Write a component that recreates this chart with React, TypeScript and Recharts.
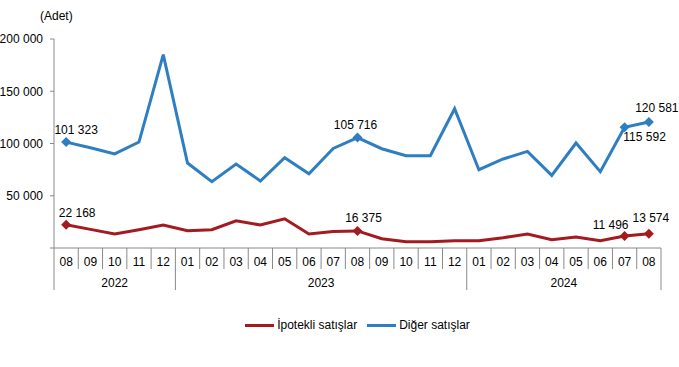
import { LineChart, Line, XAxis, YAxis } from "recharts";

const months = [
  "08", "09", "10", "11", "12",
  "01", "02", "03", "04", "05", "06", "07", "08", "09", "10", "11", "12",
  "01", "02", "03", "04", "05", "06", "07", "08",
];
const years = [
  "2022", "2022", "2022", "2022", "2022",
  "2023", "2023", "2023", "2023", "2023", "2023", "2023", "2023", "2023", "2023", "2023", "2023",
  "2024", "2024", "2024", "2024", "2024", "2024", "2024", "2024",
];
const ipotekli = [
  22168, 17800, 13400, 17500, 22000,
  16600, 17500, 26100, 22000, 28000, 13400, 15900, 16375, 8900, 6000, 6000, 7000,
  7000, 9900, 13400, 7900, 10500, 7000, 11496, 13574,
];
const diger = [
  101323, 96000, 90000, 101400, 185000,
  81300, 63400, 80400, 64100, 86400, 71100, 95300, 105716, 95000, 88300, 88300, 133300,
  74900, 85200, 92400, 69500, 100500, 73000, 115592, 120581,
];
const yTicks = [0, 50000, 100000, 150000, 200000];

// which points carry a marker + value label, and where the label sits
const ipotekliLabels: Record<number, { dx: number; dy: number }> = {
  0: { dx: 11, dy: -8 },
  12: { dx: 6, dy: -9 },
  23: { dx: -14, dy: -7 },
  24: { dx: 2, dy: -12 },
};
const digerLabels: Record<number, { dx: number; dy: number }> = {
  0: { dx: 10, dy: -8 },
  12: { dx: -2, dy: -9 },
  23: { dx: 20, dy: 14 },
  24: { dx: 8, dy: -10 },
};

const data = months.map((m, i) => ({
  key: `${years[i]}-${m}`,
  month: m,
  year: years[i],
  ipotekli: ipotekli[i],
  diger: diger[i],
}));

const RED = "#A31A1F";
const BLUE = "#2E7EC1";
const GRID = "#898989";
const FONT = "'Liberation Sans', Arial, sans-serif";

const PLOT_W = 607;
const BAND = PLOT_W / months.length;

const fmt = (v: number) => String(v).replace(/\B(?=(\d{3})+(?!\d))/g, " ");

function MonthTick(props: any) {
  const { x, y, payload } = props;
  const i = payload.index;
  const left = x - BAND / 2;
  const yearStart = i === 0 || years[i] !== years[i - 1];
  const isLast = i === months.length - 1;
  let yearLabel = null;
  if (yearStart) {
    const count = years.filter((yy) => yy === years[i]).length;
    yearLabel = (
      <text x={left + (count * BAND) / 2} y={y + 39} textAnchor="middle" fontSize={12} fill="#000" fontFamily={FONT}>
        {years[i]}
      </text>
    );
  }
  return (
    <g>
      <line x1={left} x2={left} y1={y} y2={yearStart ? y + 42 : y + 21} stroke={GRID} />
      {isLast && <line x1={x + BAND / 2} x2={x + BAND / 2} y1={y} y2={y + 42} stroke={GRID} />}
      <text x={x} y={y + 18} textAnchor="middle" fontSize={12} fill="#000" fontFamily={FONT}>
        {months[i]}
      </text>
      {yearLabel}
    </g>
  );
}

function makeDot(labels: Record<number, { dx: number; dy: number }>, color: string) {
  return (props: any) => {
    const { cx, cy, index } = props;
    if (!labels[index]) return <g key={`d${index}`} />;
    const r = 5;
    return (
      <polygon
        key={`d${index}`}
        points={`${cx},${cy - r} ${cx + r},${cy} ${cx},${cy + r} ${cx - r},${cy}`}
        fill={color}
      />
    );
  };
}

function makeLabel(labels: Record<number, { dx: number; dy: number }>, values: number[]) {
  return (props: any) => {
    const { x, y, index } = props;
    const l = labels[index];
    if (!l) return null;
    return (
      <text
        key={`l${index}`}
        x={x + l.dx}
        y={y + l.dy}
        textAnchor="middle"
        fontSize={12}
        fill="#000"
        fontFamily={FONT}
      >
        {fmt(values[index])}
      </text>
    );
  };
}

function ChartLegend() {
  const item = (color: string, text: string) => (
    <div style={{ display: "flex", alignItems: "center", margin: "0 5px" }}>
      <div style={{ width: 29, height: 3, background: color, marginRight: 3 }} />
      <span>{text}</span>
    </div>
  );
  return (
    <div
      style={{
        position: "absolute",
        top: 318,
        left: 54,
        width: PLOT_W,
        display: "flex",
        justifyContent: "center",
        fontFamily: FONT,
        fontSize: 12,
        color: "#000",
      }}
    >
      {item(RED, "İpotekli satışlar")}
      {item(BLUE, "Diğer satışlar")}
    </div>
  );
}

export default function App() {
  return (
    <div style={{ position: "absolute", left: 0, top: 0, width: 679, height: 367, background: "#fff" }}>
      <div
        style={{
          position: "absolute",
          left: 40,
          top: 9,
          fontFamily: FONT,
          fontSize: 12,
          color: "#000",
        }}
      >
        (Adet)
      </div>
      <LineChart width={679} height={367} data={data} margin={{ top: 39, right: 18, bottom: 69, left: 0 }}>
        <XAxis
          dataKey="key"
          interval={0}
          padding={{ left: BAND / 2, right: BAND / 2 }}
          axisLine={{ stroke: GRID }}
          tickLine={false}
          tickSize={0}
          tickMargin={0}
          tick={<MonthTick />}
          height={50}
        />
        <YAxis
          width={54}
          domain={[0, 200000]}
          ticks={yTicks}
          interval={0}
          axisLine={{ stroke: GRID }}
          tickLine={{ stroke: GRID }}
          tickSize={4}
          tickMargin={7}
          tick={{ fontSize: 12, fill: "#000", fontFamily: FONT }}
          tickFormatter={(v: number) => (v === 0 ? "" : fmt(v))}
        />
        <Line
          dataKey="ipotekli"
          stroke={RED}
          strokeWidth={3}
          dot={makeDot(ipotekliLabels, RED)}
          activeDot={false}
          label={makeLabel(ipotekliLabels, ipotekli)}
          isAnimationActive={false}
        />
        <Line
          dataKey="diger"
          stroke={BLUE}
          strokeWidth={3}
          dot={makeDot(digerLabels, BLUE)}
          activeDot={false}
          label={makeLabel(digerLabels, diger)}
          isAnimationActive={false}
        />
      </LineChart>
      <ChartLegend />
    </div>
  );
}
